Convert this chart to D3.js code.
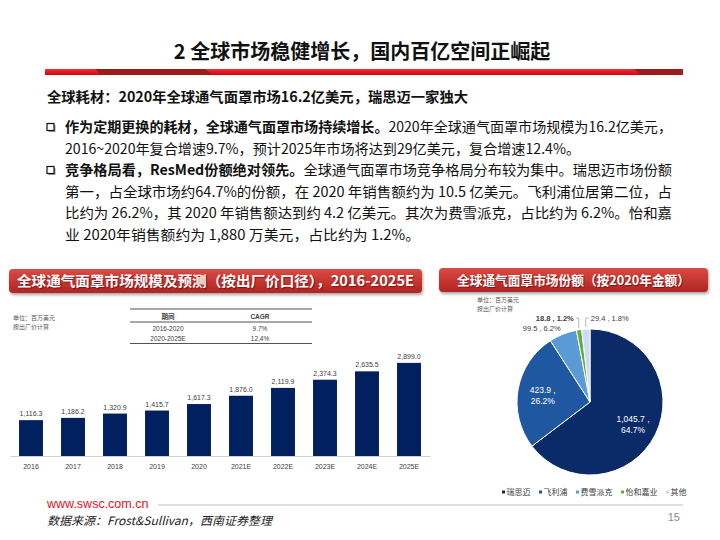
<!DOCTYPE html>
<html>
<head>
<meta charset="utf-8">
<script src="https://cdn.jsdelivr.net/npm/d3@7"></script>
<style>
  html, body { margin: 0; padding: 0; background: #fff; }
  svg { display: block; }
  .cn { font-family: "Noto Sans CJK SC", "Microsoft YaHei", sans-serif; }
  .num { font-family: "Liberation Sans", Arial, sans-serif; }
</style>
</head>
<body>
<svg id="page" width="720" height="540"></svg>
<script>
// ---- data ----
const years = ["2016", "2017", "2018", "2019", "2020", "2021E", "2022E", "2023E", "2024E", "2025E"];
const marketSize = [1116.3, 1186.2, 1320.9, 1415.7, 1617.3, 1876.0, 2119.9, 2374.3, 2635.5, 2899.0];

const cagrPeriods = ["2016-2020", "2020-2025E"];
const cagrValues = ["9.7%", "12.4%"];

const companies = ["瑞思迈", "飞利浦", "费雪派克", "怡和嘉业", "其他"];
const shareValues = [1045.7, 423.9, 99.5, 18.8, 29.4];
const sharePct = ["64.7%", "26.2%", "6.2%", "1.2%", "1.8%"];

const bulletLines = [
  [["作为定期更换的耗材，全球通气面罩市场持续增长。", true], ["2020年全球通气面罩市场规模为16.2亿美元，", false]],
  [["2016~2020年复合增速9.7%，预计2025年市场将达到29亿美元，复合增速12.4%。", false]],
  [["竞争格局看，ResMed份额绝对领先。", true], ["全球通气面罩市场竞争格局分布较为集中。瑞思迈市场份额", false]],
  [["第一，占全球市场约64.7%的份额，在 2020 年销售额约为 10.5 亿美元。飞利浦位居第二位，占", false]],
  [["比约为 26.2%，其 2020 年销售额达到约 4.2 亿美元。其次为费雪派克，占比约为 6.2%。怡和嘉", false]],
  [["业 2020年销售额约为 1,880 万美元，占比约为 1.2%。", false]]
];

// ---- styles ----
const navy = "#002060";
const pieColors = ["#0b2a68", "#1f58a0", "#5b9bd5", "#62ad3a", "#c9dcf2"];
const textGrey = "#404040";

const svg = d3.select("#page");
const defs = svg.append("defs");

const hdrGrad = defs.append("linearGradient").attr("id", "hdrGrad")
  .attr("x1", 0).attr("y1", 0).attr("x2", 0).attr("y2", 1);
hdrGrad.append("stop").attr("offset", "0%").attr("stop-color", "#dc4a42");
hdrGrad.append("stop").attr("offset", "100%").attr("stop-color", "#b02424");

const barGrad = defs.append("linearGradient").attr("id", "barGrad")
  .attr("x1", 0).attr("y1", 0).attr("x2", 0).attr("y2", 1);
barGrad.append("stop").attr("offset", "0%").attr("stop-color", "#e8323a");
barGrad.append("stop").attr("offset", "100%").attr("stop-color", "#d9000f");

const shadow = defs.append("filter").attr("id", "shadow")
  .attr("x", "-5%").attr("y", "-30%").attr("width", "110%").attr("height", "170%");
shadow.append("feDropShadow").attr("dx", 1).attr("dy", 2)
  .attr("stdDeviation", 1.5).attr("flood-color", "#000").attr("flood-opacity", 0.35);

// ---- page title ----
svg.append("text").attr("class", "cn")
  .attr("x", 362).attr("y", 59)
  .attr("text-anchor", "middle")
  .attr("font-size", 20).attr("font-weight", "bold").attr("fill", "#111")
  .text("2 全球市场稳健增长，国内百亿空间正崛起");

// red rule under title
svg.append("rect").attr("x", 45).attr("y", 69).attr("width", 638).attr("height", 6)
  .attr("fill", "url(#barGrad)");
svg.append("path").attr("d", "M95,69 L205,69 L213,75 L102,75 Z").attr("fill", "#9c1b1b");
svg.append("path").attr("d", "M634,69 L683,69 L683,75 L641,75 Z").attr("fill", "#9c1b1b");

// subheading
svg.append("text").attr("class", "cn")
  .attr("x", 47).attr("y", 102)
  .attr("font-size", 14).attr("font-weight", "bold").attr("fill", "#111")
  .attr("textLength", 421).attr("lengthAdjust", "spacingAndGlyphs")
  .text("全球耗材：2020年全球通气面罩市场16.2亿美元，瑞思迈一家独大");

// bullet paragraphs
const lineY = [127, 149, 170, 192, 213, 235];
const lineLen = [607, 515, 607, 607, 607, 355];
bulletLines.forEach((segs, i) => {
  const t = svg.append("text").attr("class", "cn")
    .attr("x", 65).attr("y", lineY[i] + 5)
    .attr("font-size", 14).attr("fill", "#111")
    .attr("textLength", lineLen[i]).attr("lengthAdjust", "spacingAndGlyphs");
  segs.forEach(([s, bold]) => {
    t.append("tspan").attr("font-weight", bold ? "bold" : "normal").text(s);
  });
});
[0, 2].forEach(i => {
  const y = lineY[i] - 3.5;
  svg.append("rect").attr("x", 48.5).attr("y", y + 1.5).attr("width", 7).attr("height", 7)
    .attr("fill", "#999");
  svg.append("rect").attr("x", 47).attr("y", y).attr("width", 7).attr("height", 7)
    .attr("fill", "#fff").attr("stroke", "#111").attr("stroke-width", 1.2);
});

// ---- panel headers ----
function header(x, y, w, h, label, size, len) {
  svg.append("rect").attr("x", x).attr("y", y).attr("width", w).attr("height", h)
    .attr("rx", 4).attr("fill", "url(#hdrGrad)").attr("filter", "url(#shadow)");
  svg.append("text").attr("class", "cn")
    .attr("x", x + (w - len) / 2).attr("y", y + h / 2 + size * 0.36)
    .attr("font-size", size).attr("font-weight", "bold").attr("fill", "#fff")
    .attr("textLength", len).attr("lengthAdjust", "spacingAndGlyphs")
    .style("text-shadow", "1px 1px 1px rgba(90,0,0,0.6)")
    .text(label);
}
header(9, 269, 413, 24, "全球通气面罩市场规模及预测（按出厂价口径），2016-2025E", 14, 397);
header(439, 268, 269, 24, "全球通气面罩市场份额（按2020年金额）", 13, 233);

// ---- bar chart ----
const unitLines = ["单位：百万美元", "按出厂价计算"];
function unitNote(x, y0) {
  unitLines.forEach((s, i) => {
    svg.append("text").attr("class", "cn")
      .attr("x", x).attr("y", y0 + i * 9)
      .attr("font-size", 6).attr("fill", "#595959").text(s);
  });
}
unitNote(13, 320);

// CAGR table
const tbl = svg.append("g").attr("class", "num").attr("font-size", 6.5).attr("fill", textGrey);
const colX = [168, 260];
tbl.append("line").attr("x1", 130).attr("x2", 312).attr("y1", 309).attr("y2", 309)
  .attr("stroke", "#404040").attr("stroke-width", 0.9);
tbl.append("line").attr("x1", 130).attr("x2", 312).attr("y1", 322).attr("y2", 322)
  .attr("stroke", "#404040").attr("stroke-width", 0.9);
tbl.append("line").attr("x1", 130).attr("x2", 312).attr("y1", 343.5).attr("y2", 343.5)
  .attr("stroke", "#404040").attr("stroke-width", 0.9);
tbl.append("text").attr("class", "cn").attr("x", colX[0]).attr("y", 319)
  .attr("text-anchor", "middle").attr("font-weight", "bold").text("期间");
tbl.append("text").attr("x", colX[1]).attr("y", 319)
  .attr("text-anchor", "middle").attr("font-weight", "bold").text("CAGR");
cagrPeriods.forEach((p, i) => {
  const y = 330.5 + i * 10;
  tbl.append("text").attr("x", colX[0]).attr("y", y).attr("text-anchor", "middle").text(p);
  tbl.append("text").attr("x", colX[1]).attr("y", y).attr("text-anchor", "middle").text(cagrValues[i]);
});

const x = d3.scaleBand().domain(years).range([10, 430]).paddingInner(0.43).paddingOuter(0.215);
const y = d3.scaleLinear().domain([0, 3300]).range([456, 350]);

const bars = svg.append("g");
bars.selectAll("rect").data(marketSize).join("rect")
  .attr("x", (d, i) => x(years[i]))
  .attr("y", d => y(d))
  .attr("width", x.bandwidth())
  .attr("height", d => y(0) - y(d))
  .attr("fill", navy);

bars.selectAll("text").data(marketSize).join("text")
  .attr("class", "num")
  .attr("x", (d, i) => x(years[i]) + x.bandwidth() / 2)
  .attr("y", d => y(d) - 4)
  .attr("text-anchor", "middle")
  .attr("font-size", 7).attr("fill", textGrey)
  .text(d => d3.format(",.1f")(d));

const xAxis = svg.append("g")
  .attr("transform", `translate(0,${y(0)})`)
  .call(d3.axisBottom(x).tickSize(0).tickPadding(8));
xAxis.select(".domain").attr("stroke", "#d0d0d0").attr("stroke-width", 1);
xAxis.selectAll("text").attr("class", "num").attr("font-size", 7).attr("fill", textGrey);

// ---- pie chart ----
unitNote(477, 302);

const cx = 590, cy = 402, R = 73;
const pie = d3.pie().sort(null).value(d => d)(shareValues);
const arc = d3.arc().innerRadius(0).outerRadius(R);
const pg = svg.append("g").attr("transform", `translate(${cx},${cy})`);
pg.selectAll("path").data(pie).join("path")
  .attr("d", arc)
  .attr("fill", (d, i) => pieColors[i])
  .attr("stroke", "#fff").attr("stroke-width", 1);

const fmt = d3.format(",.1f");
const mid = d => (d.startAngle + d.endAngle) / 2;
const pt = (a, r) => [Math.sin(a) * r, -Math.cos(a) * r];

// inside labels for the two big slices
pie.slice(0, 2).forEach((d, i) => {
  const [lx, ly] = pt(mid(d), 48);
  const t = pg.append("text").attr("class", "num")
    .attr("text-anchor", "middle").attr("font-size", 8.5).attr("fill", "#fff");
  t.append("tspan").attr("x", lx).attr("y", ly - 1).text(fmt(shareValues[i]) + " ,");
  t.append("tspan").attr("x", lx).attr("y", ly + 10).text(sharePct[i]);
});

// outside labels
{
  const d = pie[2];
  const [lx, ly] = pt(mid(d), R + 6);
  pg.append("text").attr("class", "num")
    .attr("x", lx).attr("y", ly + 2)
    .attr("text-anchor", "end").attr("font-size", 7.5).attr("fill", textGrey)
    .text(fmt(shareValues[2]) + " , " + sharePct[2]);
}
[3, 4].forEach(i => {
  const d = pie[i];
  const [ax, ay] = pt(mid(d), R + 2);
  const topY = -R - 11;
  const dir = i === 3 ? -1 : 1;
  pg.append("polyline")
    .attr("points", `${ax},${ay} ${ax},${topY} ${ax + dir * 3},${topY}`)
    .attr("fill", "none").attr("stroke", "#a6a6a6").attr("stroke-width", 0.8);
  pg.append("text").attr("class", "num")
    .attr("x", ax + dir * 5).attr("y", topY + 2.5)
    .attr("text-anchor", i === 3 ? "end" : "start")
    .attr("font-size", 7.5).attr("fill", textGrey)
    .attr("font-weight", i === 3 ? "bold" : "normal")
    .text(fmt(shareValues[i]) + " , " + sharePct[i]);
});

// legend
let lx = 502;
companies.forEach((c, i) => {
  svg.append("rect").attr("x", lx).attr("y", 490.5).attr("width", 3).attr("height", 3)
    .attr("fill", pieColors[i]);
  const t = svg.append("text").attr("class", "cn")
    .attr("x", lx + 4.5).attr("y", 495)
    .attr("font-size", 8).attr("fill", textGrey).text(c);
  lx += 4.5 + t.node().getComputedTextLength() + 8.5;
});

// ---- footer ----
svg.append("text").attr("class", "num")
  .attr("x", 47).attr("y", 508)
  .attr("font-size", 12.5).attr("fill", "#e0141e")
  .text("www.swsc.com.cn");
svg.append("line").attr("x1", 158).attr("x2", 683).attr("y1", 505).attr("y2", 505)
  .attr("stroke", "#bfbfbf").attr("stroke-width", 1);
svg.append("text").attr("class", "cn")
  .attr("x", 47).attr("y", 525)
  .attr("font-size", 11.5).attr("font-style", "italic").attr("fill", "#222")
  .attr("textLength", 225).attr("lengthAdjust", "spacingAndGlyphs")
  .text("数据来源：Frost&Sullivan，西南证券整理");
svg.append("text").attr("class", "num")
  .attr("x", 680).attr("y", 521)
  .attr("text-anchor", "end")
  .attr("font-size", 11).attr("fill", "#8c8c8c")
  .text("15");
</script>
</body>
</html>
